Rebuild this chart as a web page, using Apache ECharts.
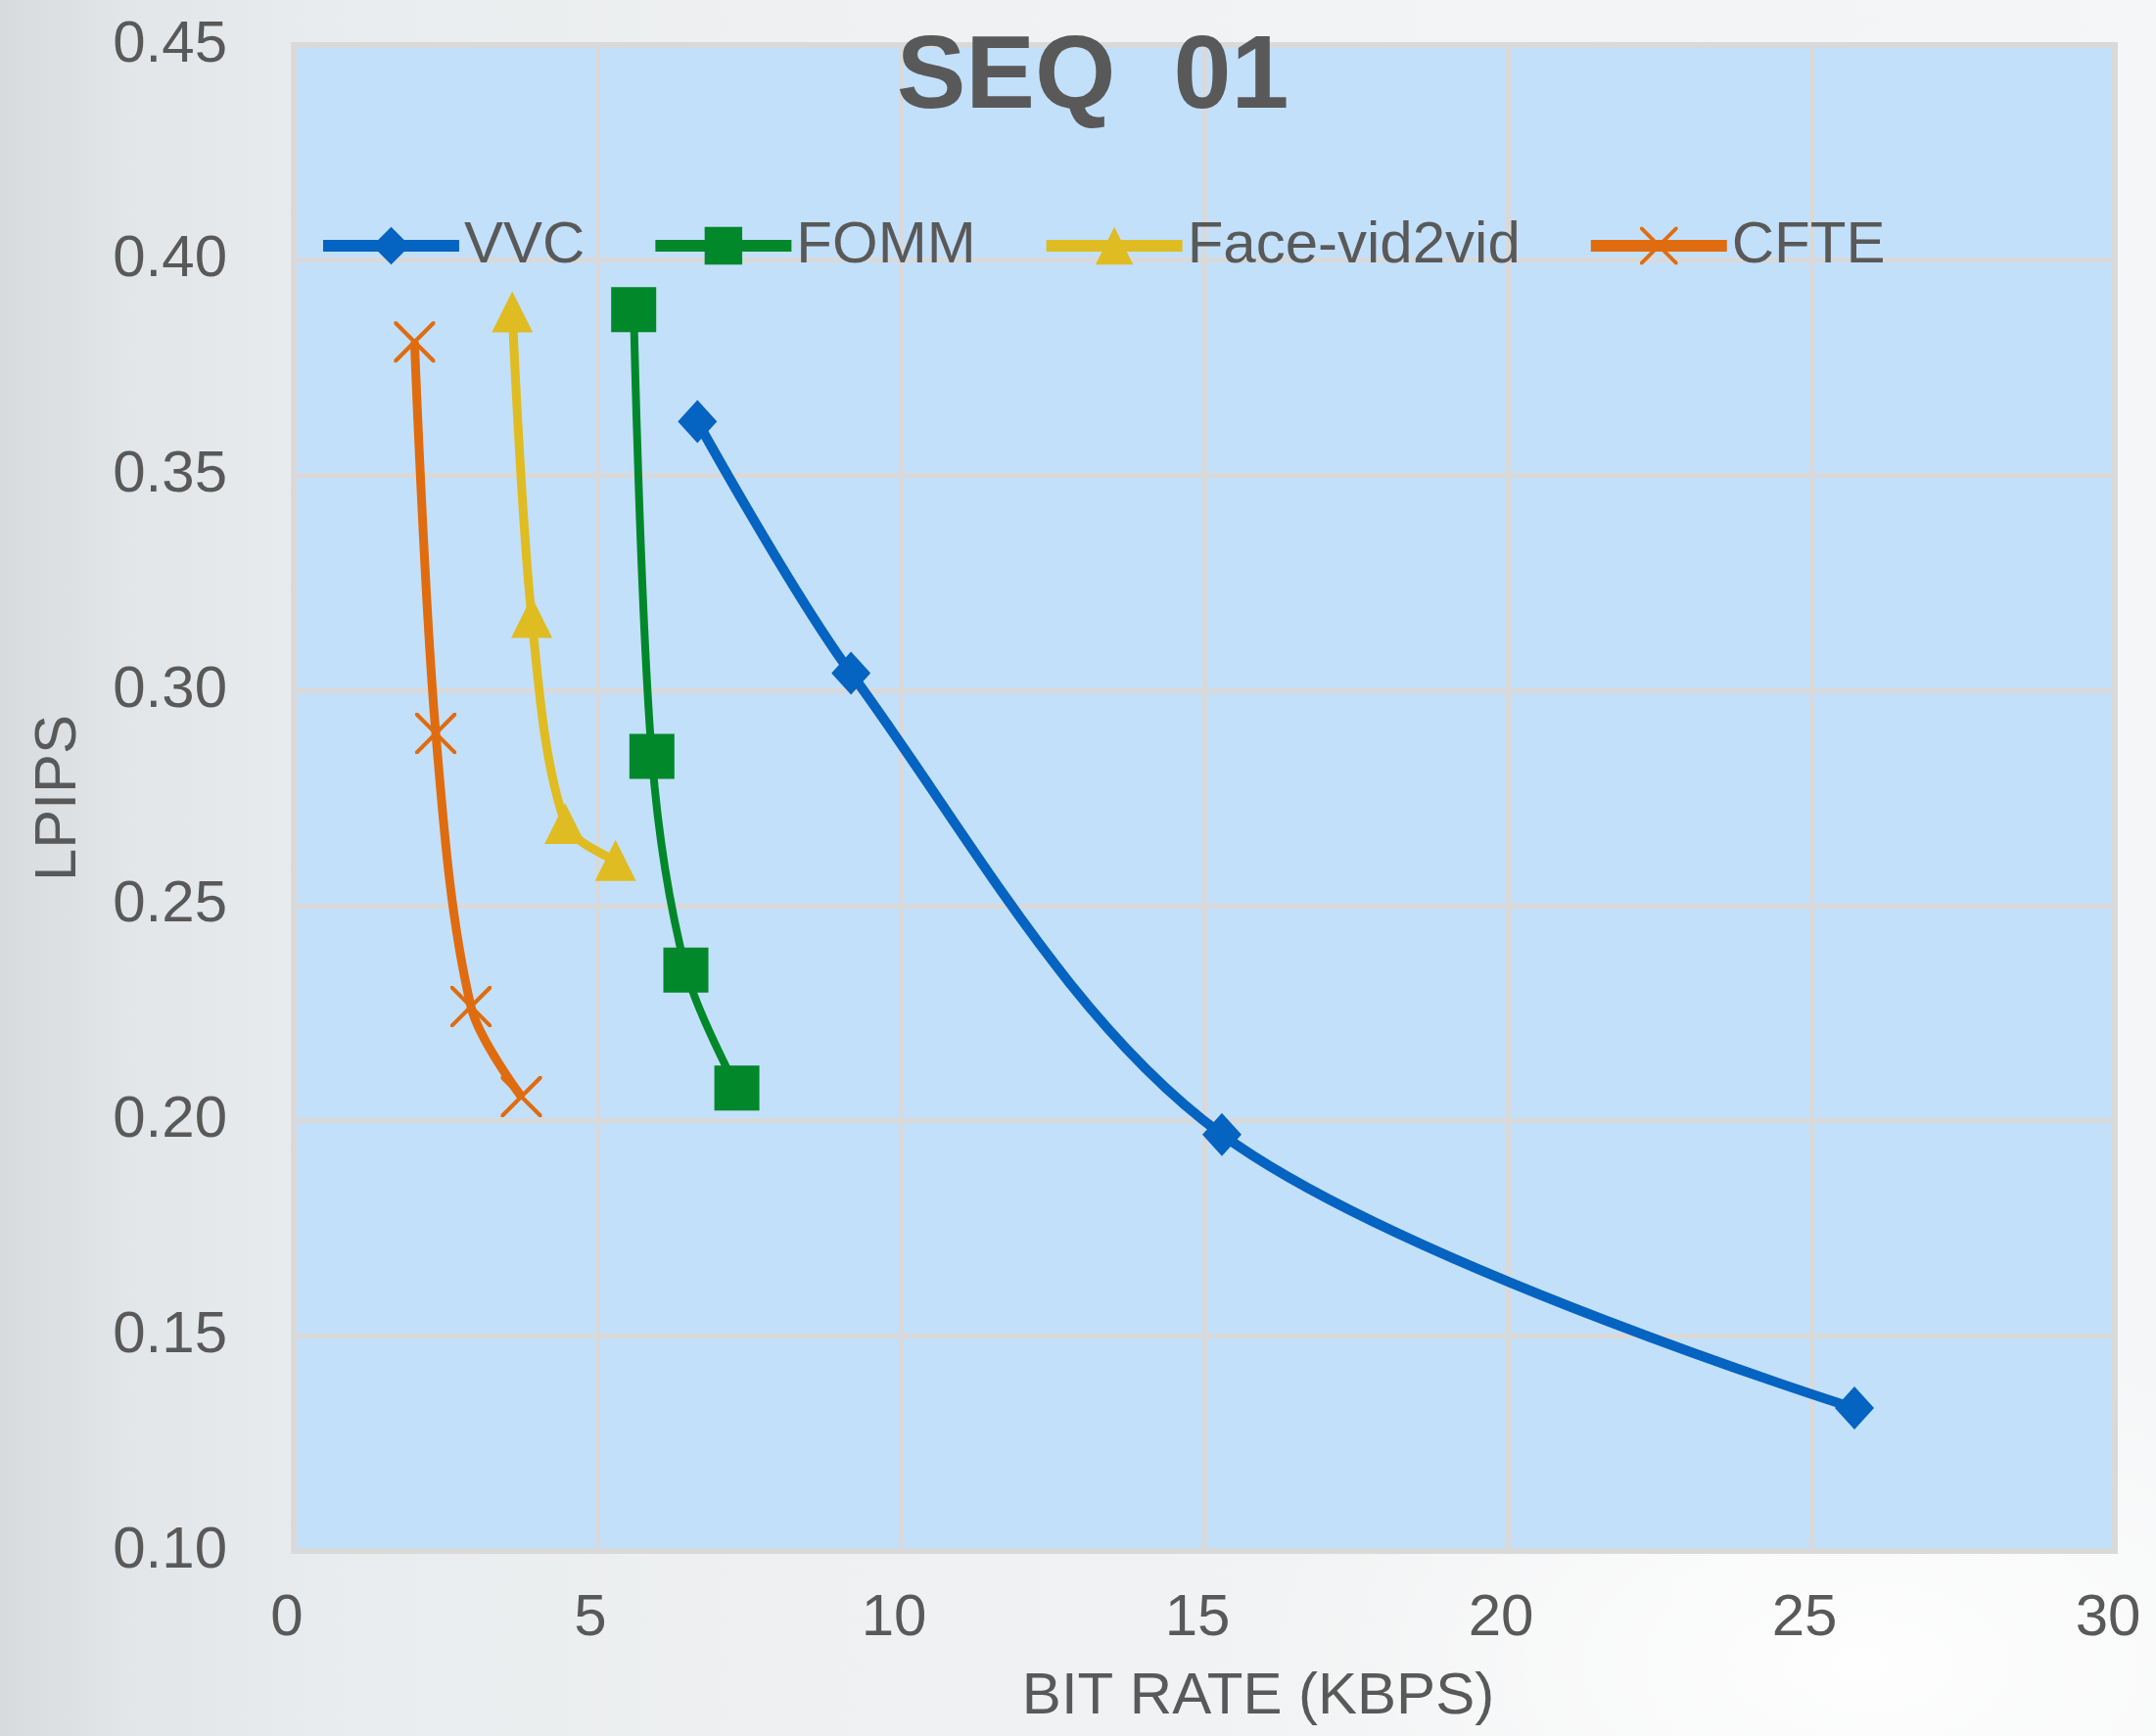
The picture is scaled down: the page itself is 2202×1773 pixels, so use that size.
<!DOCTYPE html>
<html>
<head>
<meta charset="utf-8">
<script src="https://cdn.jsdelivr.net/npm/echarts@6/dist/echarts.min.js"></script>
<style>
html,body{margin:0;padding:0;width:2202px;height:1773px;overflow:hidden;}
body{
  background:
    radial-gradient(ellipse 900px 500px at 1900px 1700px, rgba(255,255,255,0.9), rgba(255,255,255,0) 70%),
    linear-gradient(90deg, #d7dbde 0%, #e3e6e8 6%, #e9ecee 15%, #eef0f1 35%, #f2f3f4 65%, #f5f6f7 100%);
}
#chart{width:2202px;height:1773px;}
</style>
</head>
<body>
<div id="chart"></div>
<script>
// ---- data ----
const seriesNames = ['VVC', 'FOMM', 'Face-vid2vid', 'CFTE'];
const vvcX  = [6.65, 9.18, 15.29, 25.71];
const vvcY  = [0.3625, 0.304, 0.1968, 0.1332];
const fommX = [5.60, 5.90, 6.46, 7.30];
const fommY = [0.3885, 0.2847, 0.2350, 0.2076];
const faceX = [3.60, 3.92, 4.47, 5.30];
const faceY = [0.388, 0.317, 0.2691, 0.2605];
const cfteX = [1.99, 2.34, 2.92, 3.75];
const cfteY = [0.381, 0.290, 0.2265, 0.2056];
const xMin = 0, xMax = 30, xStep = 5;
const yMin = 0.10, yMax = 0.45, yStep = 0.05;
const titleText = 'SEQ  01';
const xName = 'BIT RATE (KBPS)';
const yName = 'LPIPS';

const colors = ['#0563C1', '#00882B', '#DFBC22', '#E06C10'];
const crossPath = 'path://M0,0 L7,0 L100,93 L100,100 L93,100 L0,7 Z M100,0 L100,7 L7,100 L0,100 L0,93 L93,0 Z';

function pairs(xs, ys) { return xs.map((x, i) => [x, ys[i]]); }

const textColor = '#595959';
const fontFam = '"Liberation Sans", Arial, sans-serif';

const chart = echarts.init(document.getElementById('chart'), null, {renderer: 'canvas'});
const lineDefs = [
  {data: pairs(vvcX, vvcY), symbol: 'diamond', size: [40, 44], width: 10},
  {data: pairs(fommX, fommY), symbol: 'rect', size: 46, width: 8},
  {data: pairs(faceX, faceY), symbol: 'triangle', size: 42, width: 9},
  {data: pairs(cfteX, cfteY), symbol: crossPath, size: 42, width: 9}
];

chart.setOption({
  backgroundColor: 'transparent',
  animation: false,
  textStyle: {fontFamily: fontFam},
  title: {
    text: titleText,
    left: 1116, top: 28, textAlign: 'center', padding: 0,
    textStyle: {fontSize: 106, fontWeight: 'bold', color: textColor, fontFamily: fontFam}
  },
  legend: {
    left: 324, top: 221, padding: 0,
    itemWidth: 139, itemHeight: 48, itemGap: 66,
    lineStyle: {width: 12},
    textStyle: {fontSize: 60, color: textColor, fontFamily: fontFam},
    data: seriesNames
  },
  grid: {
    left: 300, right: 2202 - 2160, top: 46, bottom: 1773 - 1584,
    show: true, backgroundColor: '#C3E0FA', borderColor: '#D9D9D9', borderWidth: 6
  },
  xAxis: {
    type: 'value', min: xMin, max: xMax, interval: xStep,
    name: xName, nameLocation: 'middle', nameGap: 119,
    nameTextStyle: {fontSize: 60, color: textColor, fontFamily: fontFam, padding: [0, 0, 0, 110]},
    axisLine: {show: false}, axisTick: {show: false},
    axisLabel: {fontSize: 60, color: textColor, margin: 39, padding: [0, 14, 0, 0], fontFamily: fontFam},
    splitLine: {show: true, lineStyle: {color: '#D9D9D9', width: 5}}
  },
  yAxis: {
    type: 'value', min: yMin, max: yMax, interval: yStep,
    name: yName, nameLocation: 'middle', nameGap: 210,
    nameTextStyle: {fontSize: 60, color: textColor, fontFamily: fontFam},
    axisLine: {show: false}, axisTick: {show: false},
    axisLabel: {fontSize: 60, color: textColor, margin: 68, fontFamily: fontFam,
      formatter: v => v.toFixed(2)},
    splitLine: {show: true, lineStyle: {color: '#D9D9D9', width: 5}}
  },
  series: lineDefs.map((d, i) => ({
    name: seriesNames[i],
    type: 'line',
    data: d.data,
    smooth: 0.33,
    symbol: d.symbol,
    symbolSize: d.size,
    showAllSymbol: true,
    color: colors[i],
    itemStyle: {color: colors[i]},
    lineStyle: {color: colors[i], width: d.width}
  }))
});
</script>
</body>
</html>
